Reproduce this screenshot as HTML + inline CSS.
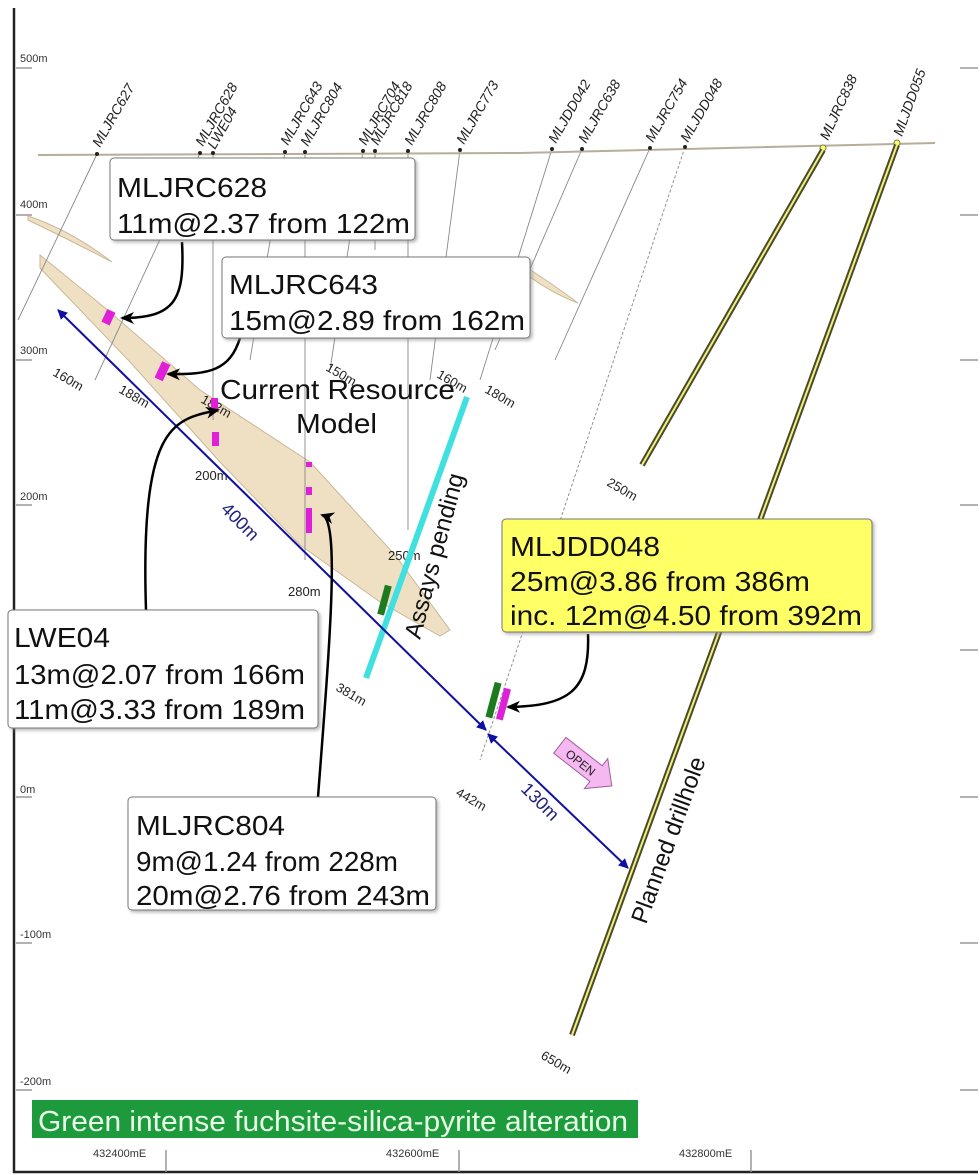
<!DOCTYPE html>
<html><head><meta charset="utf-8"><style>
html,body{margin:0;padding:0;background:#fff;}
svg{display:block;font-family:"Liberation Sans",sans-serif;}
</style></head><body>
<svg width="980" height="1175" viewBox="0 0 980 1175" xmlns="http://www.w3.org/2000/svg">
<defs>
<marker id="ab" markerWidth="10" markerHeight="10" refX="9" refY="5" orient="auto-start-reverse" markerUnits="userSpaceOnUse"><path d="M0,0 L10,5 L0,10 z" fill="#1010a0"/></marker>
<marker id="ak" markerWidth="14" markerHeight="12" refX="12" refY="6" orient="auto" markerUnits="userSpaceOnUse"><path d="M0,0 L14,6 L0,12 L4,6 z" fill="#000"/></marker>
<filter id="sh"><feDropShadow dx="2" dy="2" stdDeviation="1.5" flood-color="#888" flood-opacity="0.6"/></filter>
</defs>
<rect x="0" y="0" width="980" height="1175" fill="#fff"/>
<path d="M14,8 L14,1172 L978,1172" fill="none" stroke="#222" stroke-width="2.5"/>
<g stroke="#999" stroke-width="1.5">
<line x1="16" y1="68" x2="32" y2="68"/><line x1="16" y1="215" x2="32" y2="215"/><line x1="16" y1="360" x2="32" y2="360"/><line x1="16" y1="505" x2="32" y2="505"/><line x1="16" y1="797" x2="32" y2="797"/><line x1="16" y1="943" x2="32" y2="943"/><line x1="16" y1="1090" x2="32" y2="1090"/>
<line x1="960" y1="68" x2="978" y2="68"/><line x1="960" y1="215" x2="978" y2="215"/><line x1="960" y1="360" x2="978" y2="360"/><line x1="960" y1="505" x2="978" y2="505"/><line x1="960" y1="650" x2="978" y2="650"/><line x1="960" y1="797" x2="978" y2="797"/><line x1="960" y1="943" x2="978" y2="943"/><line x1="960" y1="1090" x2="978" y2="1090"/>
<line x1="166" y1="1150" x2="166" y2="1172"/><line x1="459" y1="1150" x2="459" y2="1172"/><line x1="751" y1="1150" x2="751" y2="1172"/>
</g>
<g font-size="11" fill="#333">
<text x="20" y="62">500m</text><text x="20" y="208">400m</text><text x="20" y="354">300m</text><text x="20" y="500">200m</text><text x="20" y="793">0m</text><text x="20" y="938">-100m</text><text x="20" y="1085">-200m</text>
<text x="93" y="1157">432400mE</text><text x="386" y="1157">432600mE</text><text x="679" y="1157">432800mE</text>
</g>
<path d="M28,216 Q70,230 112,262 Q70,240 28,220 z" fill="#efe0c4" stroke="#c8b898" stroke-width="1"/>
<path d="M518,262 Q550,282 578,303 Q548,292 518,268 z" fill="#efe0c4" stroke="#c8b898" stroke-width="1"/>
<path d="M40,255 L110,312 L200,390 L310,462 L395,555 L450,630 L440,636 L380,602 L300,545 L220,462 L130,362 L40,268 z" fill="#efe0c4" stroke="#c8b898" stroke-width="1"/>
<g stroke="#888" stroke-width="0.9" fill="none">
<line x1="97" y1="154" x2="18" y2="320"/>
<line x1="200" y1="153" x2="95" y2="380"/>
<line x1="213" y1="153" x2="213" y2="420"/>
<line x1="285" y1="152" x2="250" y2="360"/>
<line x1="305" y1="152" x2="305" y2="560"/>
<line x1="363" y1="151" x2="330" y2="370"/>
<line x1="375" y1="151" x2="375" y2="250"/>
<line x1="408" y1="151" x2="408" y2="530"/>
<line x1="460" y1="150" x2="430" y2="380"/>
<line x1="552" y1="149" x2="480" y2="380"/>
<line x1="582" y1="149" x2="495" y2="350"/>
<line x1="650" y1="148" x2="555" y2="360"/>
<line x1="685" y1="147" x2="480" y2="760" stroke-dasharray="3,2"/>
</g>
<path d="M38,155 L520,153 L935,143" fill="none" stroke="#b8ad98" stroke-width="2"/>
<g fill="#222"><circle cx="97" cy="154" r="2"/><circle cx="200" cy="153" r="2"/><circle cx="213" cy="153" r="2"/><circle cx="285" cy="152" r="2"/><circle cx="305" cy="152" r="2"/><circle cx="363" cy="151" r="2"/><circle cx="375" cy="151" r="2"/><circle cx="408" cy="151" r="2"/><circle cx="460" cy="150" r="2"/><circle cx="552" cy="149" r="2"/><circle cx="582" cy="149" r="2"/><circle cx="650" cy="148" r="2"/><circle cx="685" cy="147" r="2"/></g>
<circle cx="823" cy="148" r="3" fill="#ffff60" stroke="#776" stroke-width="1"/><circle cx="897" cy="143" r="3" fill="#ffff60" stroke="#776" stroke-width="1"/>
<g font-size="14" font-style="italic" fill="#222">
<text transform="translate(100,148) rotate(-60)">MLJRC627</text>
<text transform="translate(203,147) rotate(-60)">MLJRC628</text>
<text transform="translate(215,150) rotate(-60)">LWE04</text>
<text transform="translate(288,146) rotate(-60)">MLJRC643</text>
<text transform="translate(308,147) rotate(-60)">MLJRC804</text>
<text transform="translate(366,146) rotate(-60)">MLJRC704</text>
<text transform="translate(378,146) rotate(-60)">MLJRC818</text>
<text transform="translate(412,146) rotate(-60)">MLJRC808</text>
<text transform="translate(464,145) rotate(-60)">MLJRC773</text>
<text transform="translate(556,144) rotate(-60)">MLJDD042</text>
<text transform="translate(586,144) rotate(-60)">MLJRC638</text>
<text transform="translate(653,143) rotate(-60)">MLJRC754</text>
<text transform="translate(688,143) rotate(-60)">MLJDD048</text>
<text transform="translate(828,141) rotate(-65)">MLJRC838</text>
<text transform="translate(902,137) rotate(-70)">MLJDD055</text>
</g>
<g stroke-linecap="butt">
<line x1="823" y1="150" x2="642" y2="465" stroke="#4a4a28" stroke-width="6"/>
<line x1="823" y1="150" x2="642" y2="465" stroke="#f0f080" stroke-width="2"/>
<line x1="897" y1="145" x2="572" y2="1035" stroke="#4a4a28" stroke-width="6"/>
<line x1="897" y1="145" x2="572" y2="1035" stroke="#f0f080" stroke-width="2"/>
</g>
<g font-size="13" fill="#222">
<text transform="translate(52,375) rotate(30)">160m</text>
<text transform="translate(118,392) rotate(30)">188m</text>
<text transform="translate(200,402) rotate(30)">182m</text>
<text x="195" y="480">200m</text>
<text x="288" y="596">280m</text>
<text transform="translate(325,370) rotate(30)">150m</text>
<text transform="translate(436,377) rotate(30)">160m</text>
<text transform="translate(484,392) rotate(30)">180m</text>
<text x="388" y="560">250m</text>
<text transform="translate(335,690) rotate(30)">381m</text>
<text transform="translate(455,795) rotate(30)">442m</text>
<text transform="translate(606,485) rotate(30)">250m</text>
<text transform="translate(540,1058) rotate(30)">650m</text>
</g>
<g fill="#e020d8">
<rect x="104" y="310" width="9" height="14" transform="rotate(25 108 317)"/>
<rect x="158" y="362" width="9" height="18" transform="rotate(25 162 371)"/>
<rect x="211" y="398" width="7" height="14"/><rect x="212" y="432" width="7" height="14"/>
<rect x="306" y="462" width="6" height="5"/><rect x="306" y="487" width="6" height="8"/><rect x="306" y="508" width="6" height="25"/>
<rect x="500" y="688" width="7" height="32" transform="rotate(15 503 704)"/>
</g>
<rect x="381" y="585" width="7" height="30" fill="#1e7a1e" transform="rotate(15 384 600)"/>
<rect x="490" y="682" width="7" height="36" fill="#1e7a1e" transform="rotate(15 493 700)"/>
<line x1="467" y1="397" x2="366" y2="678" stroke="#40e0e0" stroke-width="6"/>
<line x1="58" y1="310" x2="486" y2="730" stroke="#1010a0" stroke-width="2" marker-start="url(#ab)" marker-end="url(#ab)"/>
<line x1="488" y1="734" x2="628" y2="868" stroke="#1010a0" stroke-width="2" marker-start="url(#ab)" marker-end="url(#ab)"/>
<text transform="translate(220,510) rotate(45)" font-size="18" fill="#202080">400m</text>
<text transform="translate(520,790) rotate(45)" font-size="18" fill="#202080">130m</text>
<g transform="translate(585,765) rotate(38)">
<path d="M-32,-10 L14,-10 L14,-19 L34,0 L14,19 L14,10 L-32,10 z" fill="#f5b8f0" stroke="#a060a0" stroke-width="1"/>
<text x="-22" y="5" font-size="12" fill="#222">OPEN</text>
</g>
<text transform="translate(420,640) rotate(-75)" font-size="24" fill="#111" textLength="170" lengthAdjust="spacingAndGlyphs">Assays pending</text>
<text transform="translate(646,925) rotate(-70)" font-size="24" fill="#111" textLength="175" lengthAdjust="spacingAndGlyphs">Planned drillhole</text>
<text x="220" y="399" font-size="28" fill="#111" textLength="235" lengthAdjust="spacingAndGlyphs">Current Resource</text>
<text x="296" y="433" font-size="28" fill="#111" textLength="81" lengthAdjust="spacingAndGlyphs">Model</text>
<g fill="none" stroke="#000" stroke-width="2.5">
<path d="M182,242 C185,300 175,318 122,318" marker-end="url(#ak)"/>
<path d="M240,338 C230,370 210,375 168,374" marker-end="url(#ak)"/>
<path d="M146,610 C140,420 175,420 218,410" marker-end="url(#ak)"/>
<path d="M318,797 C330,640 340,520 322,515" marker-end="url(#ak)"/>
<path d="M588,634 C590,690 570,706 508,707" marker-end="url(#ak)"/>
</g>
<g filter="url(#sh)" stroke="#777" stroke-width="1">
<rect x="110" y="158" width="305" height="82" rx="4" fill="#fff"/>
<rect x="222" y="257" width="308" height="81" rx="4" fill="#fff"/>
<rect x="8" y="610" width="310" height="118" rx="4" fill="#fff"/>
<rect x="128" y="797" width="308" height="113" rx="4" fill="#fff"/>
<rect x="502" y="519" width="370" height="113" rx="4" fill="#ffff66"/>
</g>
<g font-size="28" fill="#111">
<text x="117" y="197" textLength="150" lengthAdjust="spacingAndGlyphs">MLJRC628</text><text x="117" y="233" textLength="293" lengthAdjust="spacingAndGlyphs">11m@2.37 from 122m</text>
<text x="229" y="294" textLength="149" lengthAdjust="spacingAndGlyphs">MLJRC643</text><text x="229" y="330" textLength="296" lengthAdjust="spacingAndGlyphs">15m@2.89 from 162m</text>
<text x="14" y="647" textLength="96" lengthAdjust="spacingAndGlyphs">LWE04</text><text x="14" y="684" textLength="291" lengthAdjust="spacingAndGlyphs">13m@2.07 from 166m</text><text x="14" y="719" textLength="291" lengthAdjust="spacingAndGlyphs">11m@3.33 from 189m</text>
<text x="136" y="835" textLength="149" lengthAdjust="spacingAndGlyphs">MLJRC804</text><text x="136" y="871" textLength="262" lengthAdjust="spacingAndGlyphs">9m@1.24 from 228m</text><text x="136" y="905" textLength="294" lengthAdjust="spacingAndGlyphs">20m@2.76 from 243m</text>
<text x="510" y="556" textLength="150" lengthAdjust="spacingAndGlyphs">MLJDD048</text><text x="510" y="591" textLength="300" lengthAdjust="spacingAndGlyphs">25m@3.86 from 386m</text><text x="510" y="625" textLength="352" lengthAdjust="spacingAndGlyphs">inc. 12m@4.50 from 392m</text>
</g>
<rect x="32" y="1100" width="606" height="38" fill="#1c9a3c"/>
<text x="38" y="1131" font-size="29" fill="#e8ffe8" textLength="590" lengthAdjust="spacingAndGlyphs">Green intense fuchsite-silica-pyrite alteration</text>
</svg>
</body></html>
